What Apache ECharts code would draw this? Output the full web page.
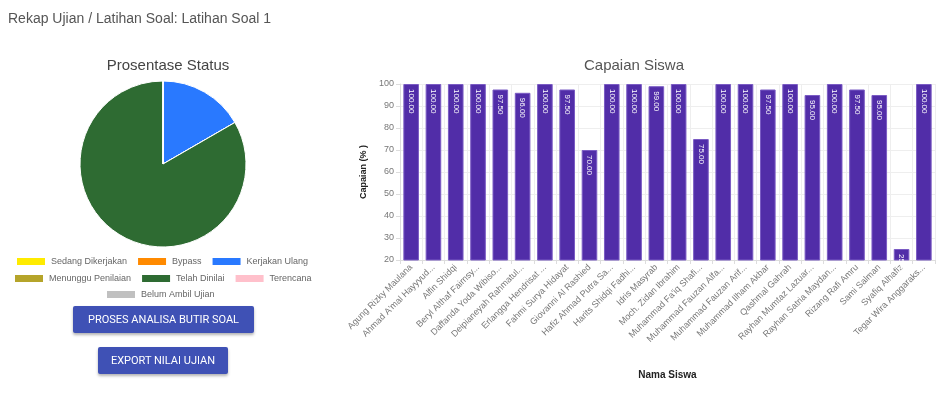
<!DOCTYPE html>
<html><head><meta charset="utf-8">
<script src="https://cdn.jsdelivr.net/npm/echarts@6/dist/echarts.min.js"></script>
<style>
html,body{margin:0;padding:0;background:#fff;}
#c{position:absolute;left:0;top:0;width:948px;height:394px;}
.btn{position:absolute;background:#3f51b5;color:#fff;font-family:Roboto,Arial,sans-serif;font-size:11px;text-align:center;border-radius:2px;box-shadow:0 2px 3px rgba(0,0,0,0.3);}
#ttl{position:absolute;left:8px;top:10px;font-family:"Liberation Sans",Arial,sans-serif;font-size:14px;color:#555;}
</style></head>
<body>
<div id="c"></div>
<div id="ttl">Rekap Ujian / Latihan Soal: Latihan Soal 1</div>
<div class="btn" style="left:73px;top:306px;width:181px;height:27px;line-height:27px;">PROSES ANALISA BUTIR SOAL</div>
<div class="btn" style="left:98px;top:347px;width:130px;height:27px;line-height:27px;">EXPORT NILAI UJIAN</div>
<script>
const statusNames = ['Sedang Dikerjakan','Bypass','Kerjakan Ulang','Menunggu Penilaian','Telah Dinilai','Terencana','Belum Ambil Ujian'];
const statusValues = [0,0,4,0,20,0,0];
const statusColors = ['#ffeb00','#ff8a00','#2979ff','#b5a42a','#2e6b32','#ffc0cb','#c0c0c0'];
const students = ['Agung Rizky Maulana','Ahmad A\'mal Hayyyud...','Alfin Shidqi','Beryl Althaf Fairnsy...','Daffanda Yoda Wibiso...','Deipianeyah Rahmatul...','Erlangga Hendrisat ...','Fahmi Surya Hidayat','Giovanni Al Rashied','Hafiz Ahmad Putra Sa...','Harits Shidqi Fadhi...','Idris Masyrab','Moch. Zidan Ibrahim','Muhammad Fa\'iq Shafi...','Muhammad Fauzan Alfa...','Muhammad Fauzan Arif...','Muhammad Ilham Akbar','Qashmal Gahrah','Rayhan Mumtaz Lazuar...','Rayhan Satria Maydan...','Rizang Rafi Amru','Sami Salman','Syafiq Alhafiz','Tegar Wira Anggaraks...'];
const scores = [100,100,100,100,97.5,96,100,97.5,70,100,100,99,100,75,100,100,97.5,100,95,100,97.5,95,25,100];
const yTicks = {min:20,max:100,interval:10};

const chart = echarts.init(document.getElementById('c'));
const font = '"Liberation Sans", Arial, sans-serif';
const legendBase = {itemWidth:30,itemHeight:9,itemGap:9,padding:0,icon:'rect',textStyle:{fontSize:9,color:'#666',fontFamily:font},selectedMode:false};
chart.setOption({
  animation:false,
  title:[
    {text:'Prosentase Status',left:163,top:53,textAlign:'center',textStyle:{fontSize:15,fontWeight:'normal',color:'#444',fontFamily:font}},
    {text:'Capaian Siswa',left:629,top:53,textAlign:'center',textStyle:{fontSize:15,fontWeight:'normal',color:'#555',fontFamily:font}}
  ],
  legend:[
    Object.assign({},legendBase,{data:statusNames.slice(0,3),left:15,top:256}),
    Object.assign({},legendBase,{data:statusNames.slice(3,6),left:13,top:273}),
    Object.assign({},legendBase,{data:statusNames.slice(6),left:105,top:289})
  ],
  grid:{left:400,right:13,top:84,bottom:134},
  xAxis:{type:'category',data:students,name:'Nama Siswa',nameLocation:'middle',nameGap:110,
    nameTextStyle:{fontWeight:'bold',fontSize:10,color:'#222',fontFamily:font},
    axisLabel:{rotate:45,interval:0,fontSize:9,color:'#777',fontFamily:font,margin:6},
    axisLine:{lineStyle:{color:'#ddd'}},axisTick:{show:true,length:4,lineStyle:{color:'#ddd'}},
    splitLine:{show:true,lineStyle:{color:'#eee'}}},
  yAxis:{type:'value',min:yTicks.min,max:yTicks.max,interval:yTicks.interval,name:'Capaian (% )',nameLocation:'middle',nameGap:32,
    nameTextStyle:{fontWeight:'bold',fontSize:9,color:'#222',fontFamily:font},
    axisLabel:{fontSize:9,color:'#777',fontFamily:font,margin:6},
    axisLine:{show:true,lineStyle:{color:'#ddd'}},axisTick:{show:true,length:4,lineStyle:{color:'#ddd'}},
    splitLine:{lineStyle:{color:'#eee'}}},
  series:[
    {type:'pie',center:[163,164],radius:[0,83],startAngle:90,clockwise:true,label:{show:false},labelLine:{show:false},
     itemStyle:{borderColor:'#fff',borderWidth:1},
     data:statusNames.map((n,i)=>({name:n,value:statusValues[i],itemStyle:{color:statusColors[i]}}))},
    {type:'bar',data:scores,barCategoryGap:'30%',
     itemStyle:{color:'#512da8',borderColor:'#7b5cc4',borderWidth:1},
     label:{show:true,position:'insideTop',rotate:-90,align:'left',verticalAlign:'middle',distance:5,
       fontSize:8,color:'#fff',fontFamily:font,formatter:p=>p.value.toFixed(2)}}
  ]
});
</script>
</body></html>
